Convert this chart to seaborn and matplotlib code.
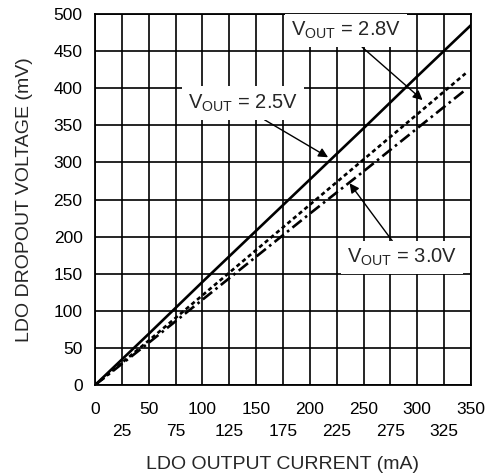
import pandas as pd
import matplotlib
matplotlib.use("Agg")
import matplotlib.pyplot as plt
import seaborn as sns

current = [0, 50, 100, 150, 200, 250, 300, 350]
vout_25 = [0, 69, 139, 208, 277, 346, 416, 485]
vout_28 = [0, 60, 121, 182, 243, 304, 365, 426]
vout_30 = [0, 57, 115, 173, 231, 288, 346, 403]
series = ["2.5V", "2.8V", "3.0V"]

df = pd.DataFrame({
    "Current": current * 3,
    "Dropout": vout_25 + vout_28 + vout_30,
    "Vout": [s for s in series for _ in current],
})
# the two dashed curves stop just short of the right edge
df = df[~((df["Vout"] != "2.5V") & (df["Current"] > 345))]
extra = pd.DataFrame({"Current": [345, 345], "Dropout": [420, 398],
                      "Vout": ["2.8V", "3.0V"]})
df = pd.concat([df, extra], ignore_index=True)

sns.set_style("white")
plt.rcParams["font.family"] = ["Liberation Sans", "DejaVu Sans"]
plt.rcParams["mathtext.fontset"] = "custom"
plt.rcParams["mathtext.rm"] = "Liberation Sans"

fig = plt.figure(figsize=(4.86, 4.76), dpi=100)
ax = fig.add_axes([0.1955, 0.191, 0.7735, 0.7795])

sns.lineplot(data=df, x="Current", y="Dropout", hue="Vout", style="Vout",
             palette=["black"] * 3,
             dashes={"2.5V": "", "2.8V": (1.6, 1.2), "3.0V": (4.5, 1.6, 1.0, 1.6)},
             linewidth=1.9, legend=False, ax=ax, zorder=3)

ax.set_xlim(0, 350)
ax.set_ylim(0, 500)
ax.set_xticks(range(0, 351, 50))
ax.set_xticks(range(25, 350, 50), minor=True)
ax.set_xticklabels([str(v) for v in range(0, 351, 50)])
ax.set_xticklabels([str(v) for v in range(25, 350, 50)], minor=True)
ax.set_yticks(range(0, 501, 50))
ax.tick_params(axis="both", which="both", length=0, labelsize=12.5, colors="black")
ax.tick_params(axis="x", which="major", pad=12)
ax.tick_params(axis="x", which="minor", pad=28)
ax.tick_params(axis="y", pad=9)
ax.grid(True, which="both", color="black", linewidth=1.2)
ax.set_axisbelow(True)
for sp in ax.spines.values():
    sp.set_color("black")
    sp.set_linewidth(1.3)

ax.set_xlabel("LDO OUTPUT CURRENT (mA)", fontsize=14, labelpad=12)
ax.set_ylabel("LDO DROPOUT VOLTAGE (mV)", fontsize=14, labelpad=15)

box = dict(boxstyle="square,pad=0.3", fc="white", ec="none")
arrow = dict(arrowstyle="-|>", color="black", lw=1.0, mutation_scale=14,
             shrinkA=0, shrinkB=0)
ax.annotate(r"V$_{\mathregular{OUT}}$ = 2.8V", xy=(305, 384), xytext=(234, 478),
            ha="center", va="center", fontsize=14.5, bbox=box, zorder=5,
            arrowprops=dict(arrow, relpos=(0.58, 0.0)))
ax.annotate(r"V$_{\mathregular{OUT}}$ = 2.5V", xy=(217, 307), xytext=(138, 380),
            ha="center", va="center", fontsize=14.5, bbox=box, zorder=5,
            arrowprops=dict(arrow, relpos=(0.6, 0.0)))
ax.annotate(r"V$_{\mathregular{OUT}}$ = 3.0V", xy=(237, 272), xytext=(286, 172),
            ha="center", va="center", fontsize=14.5, bbox=box, zorder=5,
            arrowprops=dict(arrow, relpos=(0.45, 1.0)))

fig.savefig("out.png", dpi=100)
